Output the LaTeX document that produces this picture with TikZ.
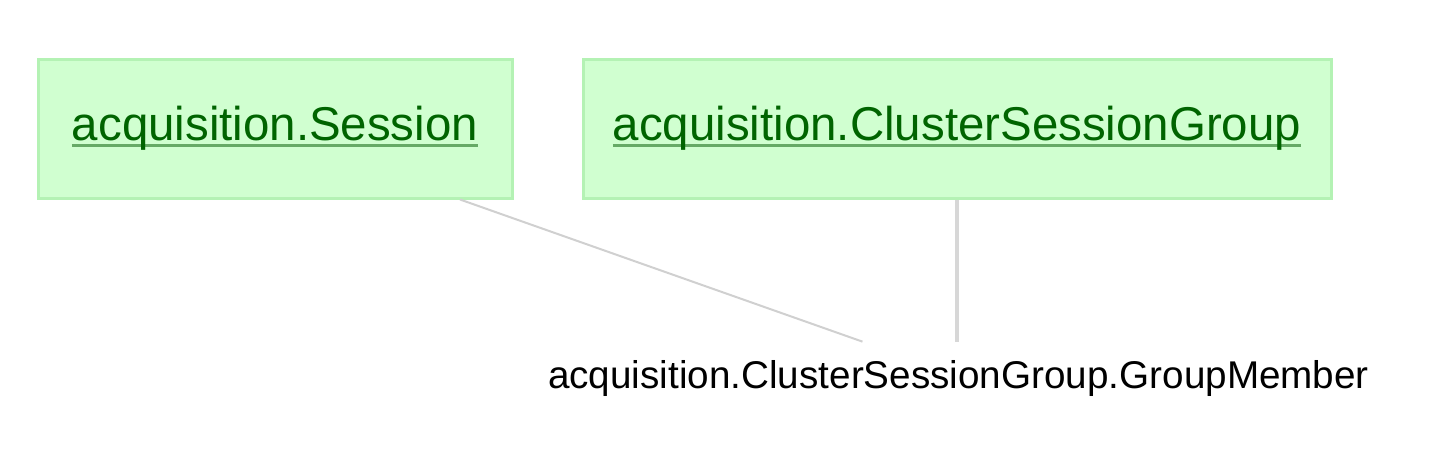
\documentclass[tikz,border=0pt]{standalone}
\usepackage{fontspec}
\setmainfont{Liberation Sans}
\usepackage{tikz}
\usetikzlibrary{positioning}
\definecolor{boxfill}{RGB}{208,255,208}
\definecolor{boxline}{RGB}{180,242,180}
\definecolor{linkgreen}{RGB}{0,100,0}
\definecolor{ulgreen}{RGB}{102,170,102}
\definecolor{relgray}{RGB}{208,208,208}
\newcommand{\gmlink}[1]{\setbox0\hbox{#1}\rlap{\color{ulgreen}\rule[-0.12cm]{\wd0}{0.06cm}}\box0}

\begin{document}
\begin{tikzpicture}[tblbox/.style={draw=boxline, fill=boxfill, line width=0.06cm, inner sep=0, minimum height=2.78cm, text=linkgreen, font=\fontsize{27}{30}\selectfont}]
    \useasboundingbox (0,0) rectangle (28.68,-9.34);
    \node[tblbox, minimum width=9.48cm] (box) at (5.5,-2.57) {\gmlink{acquisition.Session}};
    \node[tblbox, minimum width=14.96cm, right=1.36cm of box] (box1) {\gmlink{acquisition.ClusterSessionGroup}};
    \node[inner sep=0, minimum height=1.44cm, font=\fontsize{22}{26}\selectfont] (member) at (19.17,-7.56) {acquisition.ClusterSessionGroup.GroupMember};

    \draw [relgray, line width=0.04cm] ([xshift=3.7cm]box.south) -- ([xshift=-1.92cm]member.north);
    \draw [relgray!85!white, line width=0.08cm] (box1) -- (box1 |- member.north);
\end{tikzpicture}
\end{document}
